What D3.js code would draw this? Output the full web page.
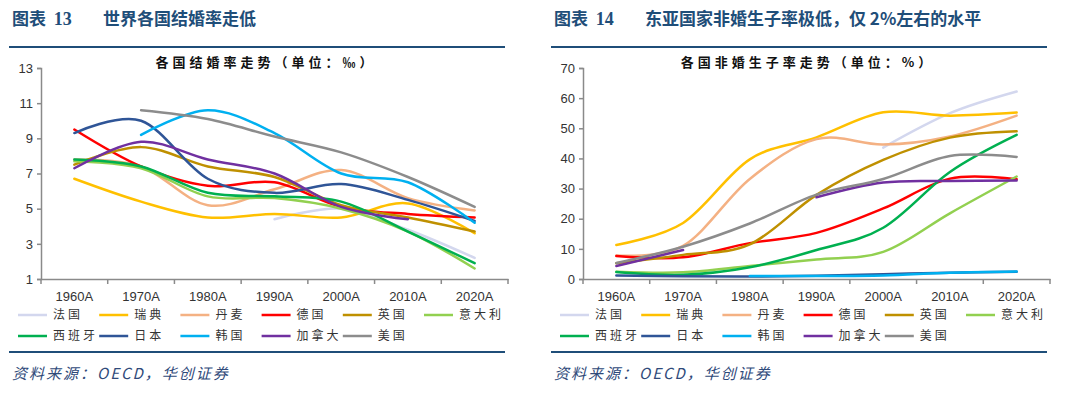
<!DOCTYPE html>
<html>
<head>
<meta charset="utf-8">
<script src="https://cdn.jsdelivr.net/npm/d3@7"></script>
<style>
  body { margin: 0; background: #fff; }
  text { font-family: "Liberation Sans", Arial, sans-serif; }
  .cjk { font-family: "Noto Sans CJK SC", sans-serif; }
</style>
</head>
<body>
<div id="chart"></div>
<script>
var years = ["1960A", "1970A", "1980A", "1990A", "2000A", "2010A", "2020A"];
var countries = ["法国", "瑞典", "丹麦", "德国", "英国", "意大利", "西班牙", "日本", "韩国", "加拿大", "美国"];
var colors = ["#D3D7EE", "#FFC000", "#F4B183", "#FF0000", "#BF9000", "#92D050", "#00B050", "#2F5597", "#00B0F0", "#7030A0", "#8C8C8C"];

// 结婚率 (‰), order follows countries
var marriageValues = [
  [null, null, null, 4.4, 5.0, 3.8, 2.2],
  [6.7, 5.4, 4.5, 4.7, 4.5, 5.3, 3.6],
  [7.8, 7.4, 5.2, 6.1, 7.2, 5.6, 4.9],
  [9.5, 7.4, 6.3, 6.5, 5.1, 4.7, 4.5],
  [7.5, 8.5, 7.4, 6.8, 5.2, 4.5, 3.7],
  [7.7, 7.3, 5.7, 5.6, 5.0, 3.7, 1.6],
  [7.8, 7.4, 5.9, 5.7, 5.4, 3.7, 1.9],
  [9.3, 10.0, 6.7, 5.9, 6.4, 5.5, 4.3],
  [null, 9.2, 10.6, 9.3, 7.0, 6.5, 4.2],
  [7.3, 8.8, 7.8, 7.0, 5.1, 4.4, null],
  [null, 10.6, 10.1, 9.1, 8.2, 6.8, 5.1]
];
var marriageTicks = [1, 3, 5, 7, 9, 11, 13];

// 非婚生子率 (%), order follows countries
var birthValues = [
  [null, null, null, null, 43.6, 55.0, 62.2],
  [11.3, 18.6, 39.7, 47.0, 55.3, 54.2, 55.2],
  [7.8, 11.0, 33.2, 46.4, 44.6, 47.3, 54.2],
  [7.6, 7.2, 11.9, 15.3, 23.4, 33.3, 33.1],
  [5.2, 8.0, 11.5, 27.9, 39.5, 46.9, 49.0],
  [2.4, 2.2, 4.3, 6.5, 9.0, 21.8, 34.0],
  [2.3, 1.4, 3.9, 9.6, 17.0, 35.5, 47.8],
  [1.2, 0.9, 0.8, 1.1, 1.6, 2.1, 2.4],
  [null, null, 1.0, 1.0, 1.2, 2.1, 2.5],
  [4.3, 9.6, null, 27.1, 32.0, 32.5, 32.7],
  [5.3, 10.7, 18.4, 28.0, 33.2, 40.8, 40.5]
];
var birthTicks = [0, 10, 20, 30, 40, 50, 60, 70];

var width = 1080, height = 397;

var svg = d3.select("#chart").append("svg")
    .attr("width", width)
    .attr("height", height);

svg.append("rect").attr("width", width).attr("height", height).attr("fill", "#fff");

function panel(ox, num, heading, subTitle, values, ticks) {
  var g = svg.append("g").attr("transform", "translate(" + ox + ",0)");

  // header
  var h = g.append("text").attr("class", "cjk")
      .attr("x", 12).attr("y", 25)
      .attr("fill", "#1F4E79")
      .attr("font-size", 17).attr("font-weight", "bold");
  h.append("tspan").text("图表 ");
  h.append("tspan").attr("dx", 4).style("font-family", "'Liberation Serif', serif").attr("font-size", 18).text(num);
  h.append("tspan").attr("x", 103).text(heading);

  g.append("line").attr("x1", 9).attr("x2", 505).attr("y1", 47).attr("y2", 47)
      .attr("stroke", "#1F4E79").attr("stroke-width", 2);
  g.append("line").attr("x1", 9).attr("x2", 505).attr("y1", 352).attr("y2", 352)
      .attr("stroke", "#1F4E79").attr("stroke-width", 2);

  g.append("text").attr("class", "cjk")
      .attr("x", 12).attr("y", 379)
      .attr("fill", "#2F4A7A")
      .attr("font-size", 15).attr("font-style", "italic")
      .attr("letter-spacing", 2)
      .text("资料来源：OECD，华创证券");

  g.append("text").attr("class", "cjk")
      .attr("x", 266).attr("y", 67)
      .attr("text-anchor", "middle")
      .attr("font-size", 13).attr("font-weight", "bold")
      .attr("letter-spacing", 4)
      .attr("fill", "#111")
      .text(subTitle);

  var x = d3.scaleBand().domain(years).range([41, 508]);
  var y = d3.scaleLinear().domain([ticks[0], ticks[ticks.length - 1]]).range([279, 68]);

  var yAxis = g.append("g").attr("transform", "translate(41,0)")
      .call(d3.axisLeft(y).tickValues(ticks).tickSize(4).tickPadding(4));
  var xAxis = g.append("g").attr("transform", "translate(0,279)")
      .call(d3.axisBottom(x).tickSize(0).tickPadding(13));

  // category boundary ticks
  var edges = years.map(function(d) { return x(d); }).concat([x.range()[1]]);
  xAxis.selectAll(".edge").data(edges).enter().append("line")
      .attr("class", "edge")
      .attr("x1", function(d) { return d; }).attr("x2", function(d) { return d; })
      .attr("y1", 0).attr("y2", 5);

  [yAxis, xAxis].forEach(function(a) {
    a.selectAll("path").attr("stroke", "#8A8A8A").attr("stroke-width", 1.5);
    a.selectAll("line").attr("stroke", "#8A8A8A").attr("stroke-width", 1.5);
    a.selectAll("text").attr("font-size", 13).attr("fill", "#333")
        .style("font-family", "'Liberation Sans', Arial, sans-serif");
  });

  var line = d3.line()
      .defined(function(d) { return d != null; })
      .x(function(d, i) { return x(years[i]) + x.bandwidth() / 2; })
      .y(function(d) { return y(d); })
      .curve(d3.curveCatmullRom.alpha(0));

  g.selectAll(".series").data(values).enter().append("path")
      .attr("class", "series")
      .attr("d", function(d) { return line(d); })
      .attr("fill", "none")
      .attr("stroke", function(d, i) { return colors[i]; })
      .attr("stroke-width", 2.5)
      .attr("stroke-linecap", "round");

  // legend
  var leg = g.selectAll(".leg").data(countries).enter().append("g")
      .attr("class", "leg")
      .attr("transform", function(d, i) {
        return "translate(" + (18 + (i % 6) * 81.2) + "," + (315 + Math.floor(i / 6) * 21) + ")";
      });
  leg.append("line").attr("x1", 0).attr("x2", 29)
      .attr("stroke", function(d, i) { return colors[i]; })
      .attr("stroke-width", 2.5);
  leg.append("text").attr("class", "cjk")
      .attr("x", 35).attr("dy", "0.35em")
      .attr("font-size", 12).attr("letter-spacing", 3)
      .attr("fill", "#333")
      .text(function(d) { return d; });
}

panel(0, "13", "世界各国结婚率走低", "各国结婚率走势（单位：‰）", marriageValues, marriageTicks);
panel(542, "14", "东亚国家非婚生子率极低，仅 2%左右的水平", "各国非婚生子率走势（单位：%）", birthValues, birthTicks);
</script>
</body>
</html>
